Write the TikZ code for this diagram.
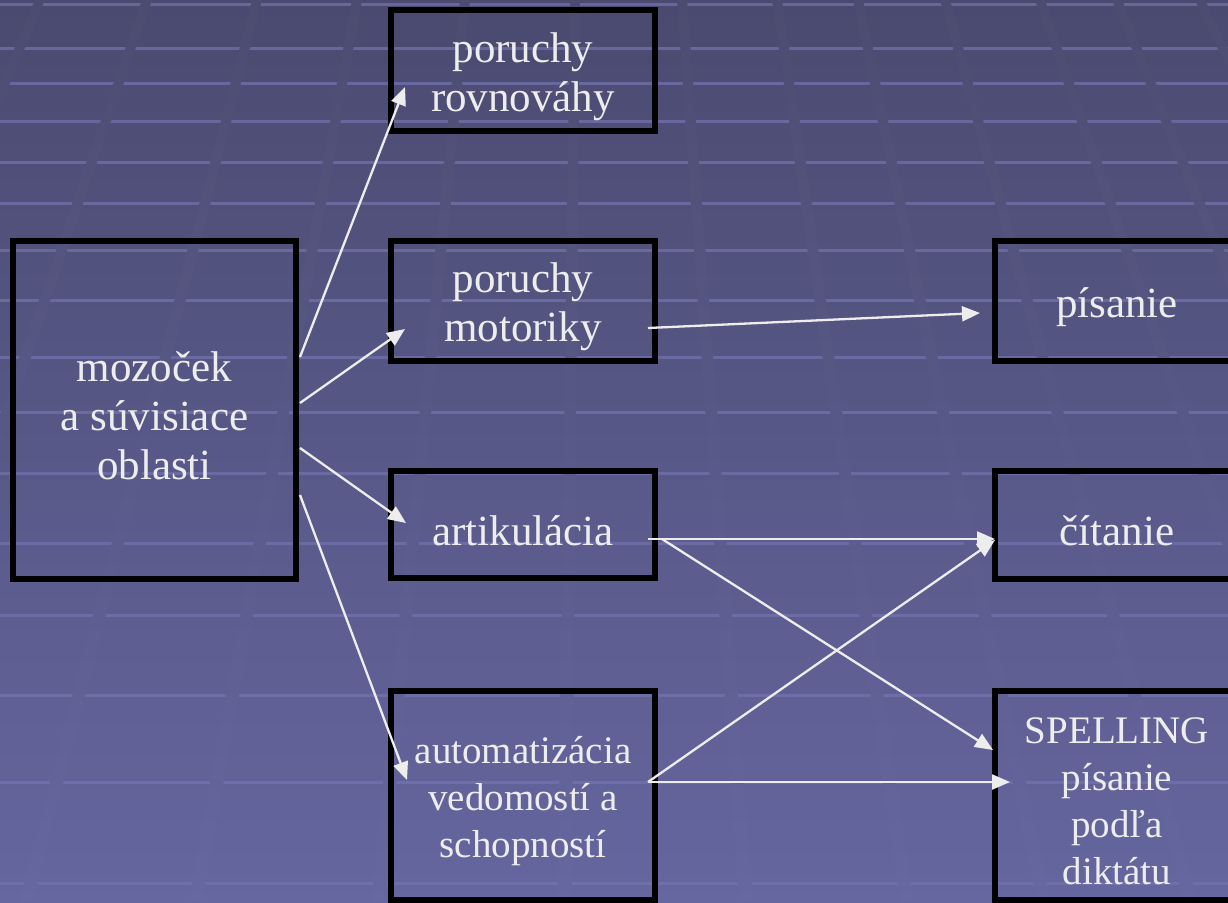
\documentclass[tikz,border=0pt]{standalone}
\usepackage{fontspec}
\setmainfont{Liberation Serif}
\usetikzlibrary{arrows.meta,calc}
\definecolor{bgtop}{HTML}{4A4A70}
\definecolor{bgbot}{HTML}{6666A0}
\definecolor{hl}{HTML}{7474B0}
\definecolor{fg}{HTML}{EDEDED}
\tikzset{
  bgshade/.style={top color=bgtop, bottom color=bgbot},
  hline/.style={draw=hl, opacity=0.7, line width=3pt},
  box/.style={rectangle, draw=black, line width=5.5pt, outer sep=0pt, inner sep=0pt},
  txt/.style={text=fg, align=center, inner sep=0pt, yshift=-6pt, font={\fontsize{43}{49}\selectfont}},
  stxt/.style={txt, font={\fontsize{39}{47}\selectfont}},
  arr/.style={draw=fg, line width=2.3pt, -{Triangle[length=18pt,width=15pt]}}
}
\begin{document}
\begin{tikzpicture}[x=1pt,y=-1pt]
\useasboundingbox (0,0) rectangle (1228,902);
\clip (0,0) rectangle (1228,902);
% background
\shade[bgshade] (0,0) rectangle (1228,902);
\foreach \y in {4,48,83,121,162,203,250,300,357,412,473,543,615,695,782,883}
  \draw[hline] (0,\y) -- (1228,\y);
\begin{scope}
  \clip \foreach \x in {-60,40,147,257,357,465,575,682,777,858,945,1040,1117,1200}
    {(\x-5,0) -- (\x+5,0) -- ({\x+(\x-590)*0.6938+7},902) -- ({\x+(\x-590)*0.6938-7},902) -- cycle};
  \shade[bgshade] (0,0) rectangle (1228,902);
  \fill[white, opacity=0.012] (0,0) rectangle (1228,902);
\end{scope}
% boxes
\node[box, minimum width=283pt, minimum height=338pt,
  label={[txt]center:{mozoček\\a súvisiace\\oblasti}}] (moz) at (154.5,410) {};
\node[box, minimum width=264pt, minimum height=121pt,
  label={[txt]center:{poruchy\\rovnováhy}}] (rov) at (523,70.5) {};
\node[box, minimum width=264pt, minimum height=120pt,
  label={[txt]center:{poruchy\\motoriky}}] (mot) at (523,301) {};
\node[box, minimum width=264pt, minimum height=107pt,
  label={[txt]center:{artikulácia}}] (art) at (523,524.5) {};
\node[box, minimum width=264pt, minimum height=209pt,
  label={[stxt]center:{automatizácia\\vedomostí a\\schopností}}] (aut) at (523,795.5) {};
\node[box, minimum width=244pt, minimum height=120pt,
  label={[txt]center:{písanie}}] (pis) at (1117,301) {};
\node[box, minimum width=244pt, minimum height=108pt,
  label={[txt]center:{čítanie}}] (cit) at (1117,525) {};
\node[box, minimum width=244pt, minimum height=209pt,
  label={[stxt]center:{SPELLING\\písanie\\podľa\\diktátu}}] (spell) at (1117,795.5) {};
% arrows
\draw[arr] ($(moz.east)+(4,-53)$) -- ($(rov.west)+(14,16.5)$);
\draw[arr] ($(moz.east)+(4,-7)$) -- ($(mot.west)+(14,28)$);
\draw[arr] ($(moz.east)+(4,38)$) -- ($(art.west)+(15,-1.5)$);
\draw[arr] ($(moz.east)+(4,85)$) -- ($(aut.west)+(16,-15.5)$);
\draw[arr] ($(mot.east)+(-7,27)$) -- ($(pis.west)+(-15,12)$);
\draw[arr] ($(art.east)+(-7,14.5)$) -- ($(cit.west)+(0,14)$);
\draw[arr] ($(art.east)+(7,14.5)$) -- ($(spell.west)+(-2,-45.5)$);
\draw[arr] ($(aut.east)+(-7,-13.5)$) -- ($(cit.west)+(0,15)$);
\draw[arr] ($(aut.east)+(-7,-13.5)$) -- ($(spell.west)+(15,-13.5)$);
\end{tikzpicture}
\end{document}
